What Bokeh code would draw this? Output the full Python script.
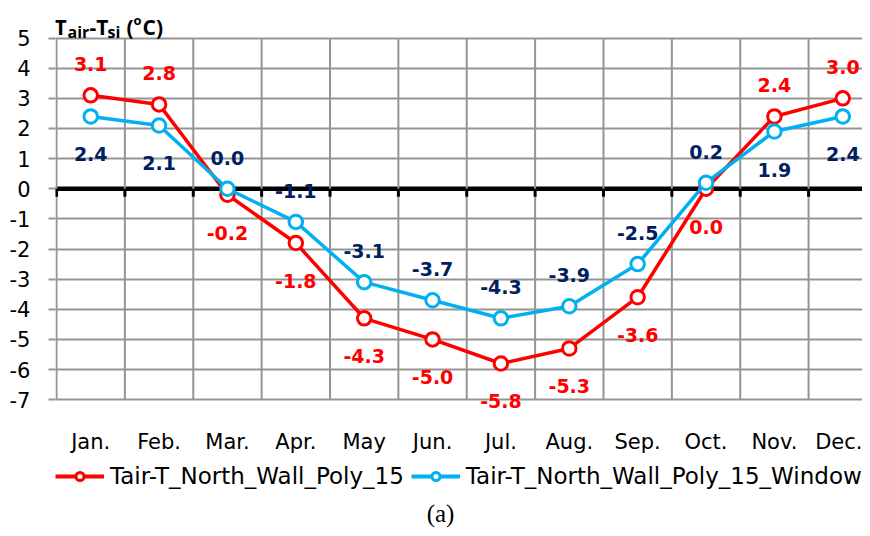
from bokeh.plotting import figure
from bokeh.layouts import column
from bokeh.models import (FixedTicker, Range1d, LabelSet, ColumnDataSource,
                          Legend, LegendItem, Span)
from bokeh.core.properties import value
from bokeh.embed import file_html
from bokeh.resources import INLINE

# ---------------- data ----------------
months = ["Jan.", "Feb.", "Mar.", "Apr.", "May", "Jun.", "Jul.", "Aug.", "Sep.", "Oct.", "Nov.", "Dec."]
wall = [3.1, 2.8, -0.2, -1.8, -4.3, -5.0, -5.8, -5.3, -3.6, 0.0, 2.4, 3.0]
window = [2.4, 2.1, 0.0, -1.1, -3.1, -3.7, -4.3, -3.9, -2.5, 0.2, 1.9, 2.4]
y_ticks = [5, 4, 3, 2, 1, 0, -1, -2, -3, -4, -5, -6, -7]
series_names = ["Tair-T_North_Wall_Poly_15", "Tair-T_North_Wall_Poly_15_Window"]
# label placement (style): above / below the point
wall_pos = ["above", "above", "below", "below", "below", "below", "below", "below", "below", "below", "above", "above"]
window_pos = ["below", "below", "above", "above", "above", "above", "above", "above", "above", "above", "below", "below"]

RED = "#FF0000"
BLUE = "#00B0F0"
NAVY = "#002060"
GRID = "#959595"
FONT = "DejaVu Sans"

# ---------------- geometry ----------------
PAGE_X0, PAGE_Y0 = 0, 0          # where the canvas lands on the screenshot
W = 862
H1, H2 = 456, 72
LEFT, TOP, BOTTOM = 55, 6, 40
PXY = 30.5
y1 = 5 + (38 - PAGE_Y0 - TOP) / PXY
y0 = y1 - (H1 - TOP - BOTTOM) / PXY
x0 = -0.015
PXX = 68.37
x1 = x0 + (W - LEFT) / PXX

def dx(page_x):
    return x0 + (page_x - PAGE_X0 - LEFT) / PXX

def dy(page_y):
    return y1 - (page_y - PAGE_Y0 - TOP) / PXY

p = figure(width=W, height=H1, output_backend="svg", toolbar_location=None,
           x_range=Range1d(x0, x1), y_range=Range1d(y0, y1),
           min_border_left=LEFT, min_border_right=0, min_border_top=TOP,
           min_border_bottom=BOTTOM)
p.outline_line_color = None
p.background_fill_color = "white"
p.border_fill_color = "white"

# grids: horizontal via the grid, vertical category separators as segments
p.xgrid.grid_line_color = None
p.ygrid.ticker = FixedTicker(ticks=y_ticks)
p.ygrid.grid_line_color = GRID
p.ygrid.grid_line_width = 2
sep = list(range(len(months) + 1))
p.segment(x0=sep, y0=[min(y_ticks)] * len(sep), x1=sep, y1=[max(y_ticks)] * len(sep),
          line_color=GRID, line_width=2)

# x axis
xc = [i + 0.5 for i in range(len(months))]
p.xaxis.ticker = FixedTicker(ticks=xc)
p.xaxis.major_label_overrides = {c: m for c, m in zip(xc, months)}
p.xaxis.axis_line_color = None
p.xaxis.major_tick_line_color = None
p.xaxis.minor_tick_line_color = None
p.xaxis.major_label_standoff = 12
p.xaxis.major_label_text_font = FONT
p.xaxis.major_label_text_font_size = "21px"
p.xaxis.major_label_text_color = "black"

# y axis
p.yaxis.ticker = FixedTicker(ticks=y_ticks)
p.yaxis.major_label_overrides = {t: str(t) for t in y_ticks}
p.yaxis.axis_line_color = None
p.yaxis.major_tick_line_color = GRID
p.yaxis.major_tick_line_width = 2
p.yaxis.major_tick_out = 7
p.yaxis.major_tick_in = 0
p.yaxis.minor_tick_line_color = None
p.yaxis.major_label_standoff = 18
p.yaxis.major_label_text_font = FONT
p.yaxis.major_label_text_font_size = "21px"
p.yaxis.major_label_text_color = "black"

# zero line with ticks
p.add_layout(Span(location=0, dimension="width", line_color="black", line_width=4.5, level="underlay"))
p.segment(x0=sep, y0=[0] * len(sep), x1=sep, y1=[-8 / PXY] * len(sep), line_color="black", line_width=3)

# series
p.line(xc, wall, line_color=RED, line_width=3.5)
p.scatter(xc, wall, size=13.5, marker="circle", fill_color="white", line_color=RED, line_width=3)
p.line(xc, window, line_color=BLUE, line_width=3.5)
p.scatter(xc, window, size=13.5, marker="circle", fill_color="white", line_color=BLUE, line_width=3)

# data labels
def labels(vals, pos, color):
    src = ColumnDataSource(dict(
        x=xc, y=vals, t=[f"{v:.1f}" for v in vals],
        off=[31 if s == "above" else -38 for s in pos]))
    p.add_layout(LabelSet(x="x", y="y", text="t", y_offset="off", source=src,
                          text_align="center", text_baseline="middle",
                          text_font=value(FONT), text_font_style="bold",
                          text_font_size=value("19px"), text_color=color))

labels(wall, wall_pos, RED)
labels(window, window_pos, NAVY)

# axis title with sub/superscripts (text, page x, page baseline y, size)
title_parts = [("T", 54, 27, "21px"), ("air", 67, 32, "16px"), ("-T", 89, 27, "21px"),
               ("si", 107, 32, "16px"), ("(", 126, 27, "21px"), ("o", 133, 20, "13px"),
               ("C)", 142, 27, "21px")]
tsrc = ColumnDataSource(dict(
    x=[dx(t[1]) for t in title_parts], y=[dy(t[2]) for t in title_parts],
    t=[t[0] for t in title_parts], fs=[t[3] for t in title_parts]))
p.text(x="x", y="y", text="t", text_font_size="fs", source=tsrc,
       text_align="left", text_baseline="alphabetic",
       text_font=value("Open Sans"), text_font_style="bold", text_color="black")

# ---------------- legend + caption strip (frame aligned with the chart) ----------------
XO = 100  # strip coordinates are offset so the proxy series stay out of view
p2 = figure(width=W, height=H2, output_backend="svg", toolbar_location=None,
            x_range=Range1d(XO, XO + W - LEFT), y_range=Range1d(H2, 0),
            x_axis_location=None, y_axis_location=None,
            min_border_left=LEFT, min_border_right=0,
            min_border_top=0, min_border_bottom=0)
p2.grid.visible = False
p2.outline_line_color = None
p2.background_fill_color = "white"
p2.border_fill_color = "white"

l1 = p2.line(xc, wall, line_color=RED, line_width=4)
s1 = p2.scatter(xc, wall, size=14, marker="circle", fill_color="white", line_color=RED, line_width=3)
l2 = p2.line(xc, window, line_color=BLUE, line_width=4)
s2 = p2.scatter(xc, window, size=14, marker="circle", fill_color="white", line_color=BLUE, line_width=3)

legend = Legend(items=[LegendItem(label=series_names[0], renderers=[l1, s1]),
                       LegendItem(label=series_names[1], renderers=[l2, s2])],
                orientation="horizontal", location=(58 - PAGE_X0 - LEFT - 3, 35),
                glyph_width=49, glyph_height=20, label_standoff=6, spacing=7,
                padding=3, margin=0, border_line_color=None, background_fill_alpha=0,
                label_text_font=FONT, label_text_font_size="23px", label_height=34,
                label_text_color="black")
p2.add_layout(legend)

cap_src = ColumnDataSource(dict(x=[XO + 440 - PAGE_X0 - LEFT], y=[513 - H1 - PAGE_Y0], t=["(a)"]))
p2.text(x="x", y="y", text="t", source=cap_src, text_align="center", text_baseline="middle",
        text_font=value("Liberation Serif"), text_font_size=value("25px"), text_color="black")

open("out.html", "w").write(file_html(column(p, p2, spacing=0), INLINE))
